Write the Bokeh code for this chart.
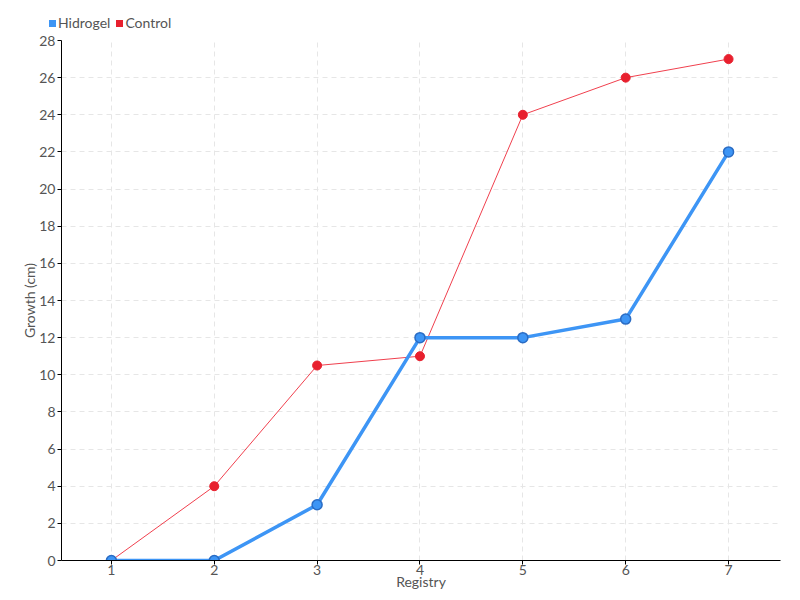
from bokeh.plotting import figure
from bokeh.models import FixedTicker, Range1d, Div
from bokeh.layouts import column
from bokeh.embed import file_html
from bokeh.resources import INLINE

registry = [1, 2, 3, 4, 5, 6, 7]
hidrogel = [0, 0, 3, 12, 12, 13, 22]
control = [0, 4, 10.5, 11, 24, 26, 27]
y_ticks = list(range(0, 29, 2))
series_names = ["Hidrogel", "Control"]

FONT = "Lato"
red = "#e8202e"
blue = "#3d95f5"

p = figure(width=800, height=566, output_backend="svg", toolbar_location=None,
           x_range=Range1d(0.515, 7.505), y_range=Range1d(0, 28),
           min_border_left=61, min_border_top=6, min_border_right=20, min_border_bottom=40)
p.outline_line_color = None
p.background_fill_color = "white"

for ax in (p.xaxis[0], p.yaxis[0]):
    ax.axis_line_color = "black"
    ax.major_tick_line_color = "black"
    ax.major_tick_out = 4
    ax.major_tick_in = 0
    ax.minor_tick_line_color = None
    ax.major_label_text_font = FONT
    ax.major_label_text_font_size = "14px"
    ax.major_label_text_color = "#555555"
    ax.axis_label_text_font = FONT
    ax.axis_label_text_font_size = "14px"
    ax.axis_label_text_color = "#555555"
    ax.axis_label_text_font_style = "normal"

p.xaxis.ticker = FixedTicker(ticks=registry)
p.yaxis.ticker = FixedTicker(ticks=y_ticks)
p.xaxis.axis_label = "Registry"
p.yaxis.axis_label = "Growth (cm)"
p.xaxis.axis_label_standoff = -5
p.yaxis.axis_label_standoff = -2
p.xaxis.major_label_standoff = 0
p.yaxis.major_label_standoff = 2

for g in (p.xgrid[0], p.ygrid[0]):
    g.grid_line_color = "#e6e6e6"
    g.grid_line_dash = "5 4"
    g.grid_line_width = 1

p.line(registry, control, line_color="#f0404e", line_width=1)
p.scatter(registry, control, size=9, fill_color=red, line_color=red)
p.line(registry, hidrogel, line_color=blue, line_width=3.5)
p.scatter(registry, hidrogel, size=10, fill_color=blue, line_color="#2a6cc4", line_width=1.5)

# legend strip above the chart
def item(color, name):
    return (f'<span style="display:inline-block;width:7px;height:7px;background:{color};'
            f'margin-right:2px;vertical-align:middle;"></span>'
            f'<span style="vertical-align:middle;margin-right:6px;">{name}</span>')

legend_html = (f'<div style="font-family:Lato;font-size:14px;color:#555555;line-height:16px;'
               f'padding:14px 0 0 49px;white-space:nowrap;">'
               f'{item(blue, series_names[0])}{item(red, series_names[1])}</div>')
lg = Div(text=legend_html, width=800, height=34, margin=0)

layout = column(lg, p, spacing=0)
open("out.html", "w").write(file_html(layout, INLINE))
